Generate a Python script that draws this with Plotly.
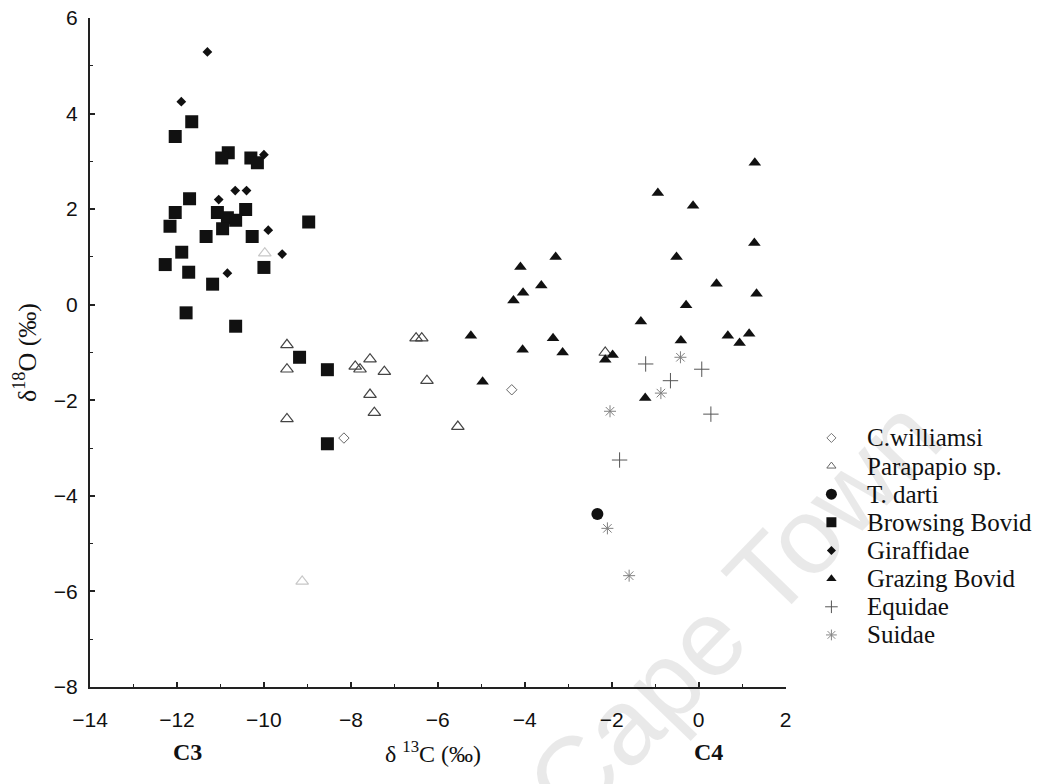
import plotly.graph_objects as go

# ---------------- data ----------------
c_williamsi_x = [-8.16, -4.30]
c_williamsi_y = [-2.79, -1.78]

parapapio_x = [-9.47, -9.47, -7.90, -7.79, -7.56, -7.23, -7.56, -7.46, -9.47,
               -6.50, -6.37, -6.25, -5.54, -2.15, -9.12, -9.98]
parapapio_y = [-0.84, -1.35, -1.29, -1.35, -1.14, -1.40, -1.88, -2.26, -2.39,
               -0.70, -0.70, -1.59, -2.55, -1.00, -5.79, 1.08]

t_darti_x = [-2.33]
t_darti_y = [-4.38]

browsing_x = [-11.66, -12.04, -10.82, -10.97, -10.30, -10.15, -11.71, -12.04, -10.42,
              -11.07, -10.84, -10.65, -10.95, -12.16, -11.33, -10.27, -8.97, -11.89,
              -12.27, -11.73, -10.00, -11.18, -11.79, -10.65, -9.18, -8.54, -8.54]
browsing_y = [3.83, 3.52, 3.18, 3.07, 3.07, 2.97, 2.22, 1.93, 1.99,
              1.93, 1.82, 1.77, 1.59, 1.64, 1.43, 1.43, 1.73, 1.10,
              0.84, 0.68, 0.78, 0.43, -0.17, -0.45, -1.10, -1.36, -2.91]

giraffidae_x = [-11.30, -11.90, -10.00, -10.66, -10.40, -11.04, -9.90, -9.58, -10.84]
giraffidae_y = [5.29, 4.25, 3.14, 2.39, 2.39, 2.20, 1.56, 1.06, 0.66]

grazing_x = [-5.24, -4.97, -3.29, -4.10, -3.62, -4.04, -4.26, -3.35, -4.05, -3.13,
             -2.15, -1.98, -1.33, 1.29, -0.94, -0.13, 1.28, -0.51, 0.41, 1.33,
             -0.29, 0.67, 1.16, 0.94, -0.41, -1.23]
grazing_y = [-0.65, -1.61, 1.00, 0.79, 0.40, 0.25, 0.09, -0.70, -0.94, -1.00,
             -1.15, -1.05, -0.35, 2.97, 2.34, 2.07, 1.29, 1.00, 0.44, 0.23,
             -0.01, -0.65, -0.61, -0.80, -0.75, -1.95]

equidae_x = [-1.22, 0.07, -0.65, 0.28, -1.82]
equidae_y = [-1.24, -1.35, -1.59, -2.29, -3.25]

suidae_x = [-2.04, -0.42, -0.87, -2.10, -1.60]
suidae_y = [-2.23, -1.10, -1.85, -4.68, -5.67]

legend_names = ["C.williamsi", "Parapapio sp.", "T. darti", "Browsing Bovid",
                "Giraffidae", "Grazing Bovid", "Equidae", "Suidae"]

x_tick_vals = [-14, -12, -10, -8, -6, -4, -2, 0, 2]
y_tick_vals = [-8, -6, -4, -2, 0, 2, 4, 6]

# ---------------- styles ----------------
parapapio_opacity = [1] * 14 + [0.3, 0.3]

styles = {
    "C.williamsi": dict(symbol="diamond-open", size=8, color="#666666",
                        line=dict(color="#666666", width=1)),
    "Parapapio sp.": dict(symbol="triangle-up-open", size=11, color="#444444",
                          line=dict(color="#444444", width=1.2)),
    "T. darti": dict(symbol="circle", size=12, color="#111111"),
    "Browsing Bovid": dict(symbol="square", size=13, color="#111111"),
    "Giraffidae": dict(symbol="diamond", size=7.5, color="#111111"),
    "Grazing Bovid": dict(symbol="triangle-up", size=11, color="#111111"),
    "Equidae": dict(symbol="cross-thin-open", size=11, color="#555555",
                    line=dict(color="#555555", width=1)),
    "Suidae": dict(symbol="asterisk-open", size=10, color="#808080",
                   line=dict(color="#808080", width=1)),
}
legend_styles = {
    "C.williamsi": dict(symbol="diamond-open", size=7, color="#777777",
                        line=dict(color="#777777", width=1)),
    "Parapapio sp.": dict(symbol="triangle-up-open", size=8, color="#666666",
                          line=dict(color="#666666", width=1)),
    "T. darti": dict(symbol="circle", size=11, color="#111111"),
    "Browsing Bovid": dict(symbol="square", size=10, color="#111111"),
    "Giraffidae": dict(symbol="diamond", size=7, color="#111111"),
    "Grazing Bovid": dict(symbol="triangle-up", size=9, color="#111111"),
    "Equidae": dict(symbol="cross-thin-open", size=9, color="#555555",
                    line=dict(color="#555555", width=1)),
    "Suidae": dict(symbol="asterisk-open", size=9, color="#888888",
                   line=dict(color="#888888", width=1)),
}

series = [
    ("C.williamsi", c_williamsi_x, c_williamsi_y),
    ("Parapapio sp.", parapapio_x, parapapio_y),
    ("T. darti", t_darti_x, t_darti_y),
    ("Browsing Bovid", browsing_x, browsing_y),
    ("Giraffidae", giraffidae_x, giraffidae_y),
    ("Grazing Bovid", grazing_x, grazing_y),
    ("Equidae", equidae_x, equidae_y),
    ("Suidae", suidae_x, suidae_y),
]

fig = go.Figure()

for name, xs, ys in series:
    m = dict(styles[name])
    if name == "Parapapio sp.":
        m["opacity"] = parapapio_opacity
    fig.add_trace(go.Scatter(x=xs, y=ys, mode="markers", name=name,
                             marker=m, showlegend=False, hoverinfo="x+y+name"))

# hand-built legend (markers on an auxiliary invisible axis pair)
LEG_MARK_X = 0.115
for i, name in enumerate(legend_names):
    fig.add_trace(go.Scatter(x=[LEG_MARK_X], y=[i], mode="markers", name=name,
                             marker=legend_styles[name], showlegend=False,
                             xaxis="x2", yaxis="y2", hoverinfo="skip"))

serif = "Liberation Serif"
sans = "Liberation Sans"

annotations = []
for i, name in enumerate(legend_names):
    annotations.append(dict(x=0.805, xref="paper", y=i, yref="y2", text=name,
                            showarrow=False, xanchor="left", yanchor="middle",
                            font=dict(family=serif, size=25, color="#111111")))

annotations += [
    dict(x=0.668, xref="paper", y=0.115, yref="paper", text="Cape Town",
         textangle=-46, showarrow=False, xanchor="center", yanchor="middle",
         font=dict(family=sans, size=108, color="rgba(0,0,0,0.085)")),
    dict(x=-11.76, xref="x", y=-0.097, yref="paper", text="<b>C3</b>",
         showarrow=False, yanchor="middle",
         font=dict(family=serif, size=24, color="#111111")),
    dict(x=0.22, xref="x", y=-0.097, yref="paper", text="<b>C4</b>",
         showarrow=False, yanchor="middle",
         font=dict(family=serif, size=24, color="#111111")),
    dict(x=-6.1, xref="x", y=-0.097, yref="paper",
         text="δ <sup>13</sup>C (‰)", showarrow=False, yanchor="middle",
         font=dict(family=serif, size=24, color="#111111")),
]

fig.update_layout(
    width=1059, height=784,
    margin=dict(l=90, r=0, t=18, b=97),
    paper_bgcolor="white", plot_bgcolor="white",
    showlegend=False,
    annotations=annotations,
    xaxis=dict(domain=[0, 700 / 969], range=[-14, 2], tickvals=x_tick_vals,
               ticks="inside", ticklen=5, tickwidth=1.5, tickcolor="#222222",
               showline=True, linecolor="#222222", linewidth=2,
               showgrid=False, zeroline=False, ticklabelstandoff=13,
               tickfont=dict(family=sans, size=21, color="#111111"),
               minor=dict(ticks="inside", ticklen=3, tickwidth=1,
                          tickcolor="#222222", dtick=1, showgrid=False)),
    yaxis=dict(range=[-8, 6], tickvals=y_tick_vals,
               ticks="inside", ticklen=5, tickwidth=1.5, tickcolor="#222222",
               showline=True, linecolor="#222222", linewidth=2,
               showgrid=False, zeroline=False, ticklabelstandoff=6,
               tickfont=dict(family=sans, size=21, color="#111111"),
               title=dict(text="δ<sup>18</sup>O (‰)", standoff=10,
                          font=dict(family=serif, size=26, color="#111111")),
               minor=dict(ticks="inside", ticklen=3, tickwidth=1,
                          tickcolor="#222222", dtick=1, showgrid=False)),
    xaxis2=dict(domain=[0.74, 1.0], range=[0, 1], visible=False,
                anchor="y2", fixedrange=True),
    yaxis2=dict(domain=[0, 1], range=[8.85, -14.92], visible=False,
                anchor="x2", fixedrange=True),
)

fig.write_html("out.html")
